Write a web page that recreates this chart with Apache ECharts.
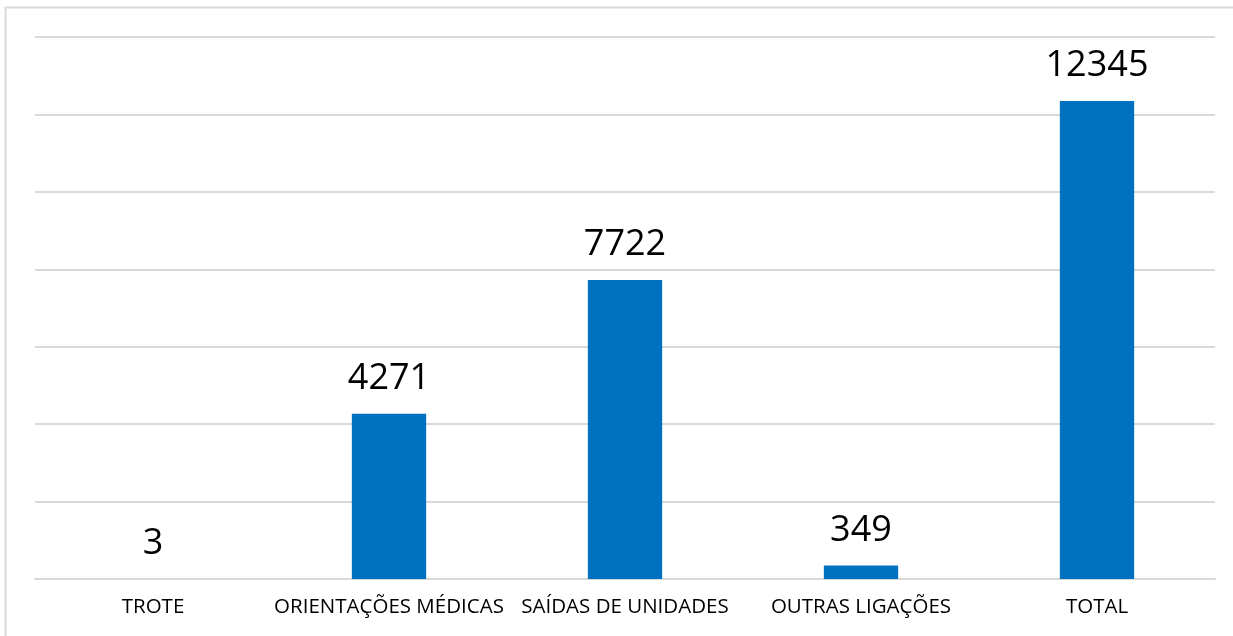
<!DOCTYPE html>
<html>
<head>
<meta charset="utf-8">
<script src="https://cdn.jsdelivr.net/npm/echarts@6/dist/echarts.min.js"></script>
<style>
html,body{margin:0;padding:0;background:#fff;}
#c{width:1233px;height:636px;}
</style>
</head>
<body>
<div id="c"></div>
<script>
const categories = ['TROTE', 'ORIENTAÇÕES MÉDICAS', 'SAÍDAS DE UNIDADES', 'OUTRAS LIGAÇÕES', 'TOTAL'];
const values = [3, 4271, 7722, 349, 12345];

const chart = echarts.init(document.getElementById('c'), null, {renderer: 'canvas'});
chart.setOption({
  animation: false,
  backgroundColor: '#ffffff',
  graphic: [{
    type: 'rect',
    shape: {x: 5.5, y: 7.5, width: 1260, height: 660},
    style: {fill: 'none', stroke: '#D9D9D9', lineWidth: 2},
    silent: true
  }],
  grid: {left: 35, right: 18, top: 37, bottom: 57, containLabel: false},
  xAxis: {
    type: 'category',
    data: categories,
    axisLine: {show: true, lineStyle: {color: '#D9D9D9', width: 2}},
    axisTick: {show: false},
    axisLabel: {
      color: '#000000',
      fontFamily: 'Open Sans',
      fontSize: 20.5,
      margin: 18,
      interval: 0
    }
  },
  yAxis: {
    type: 'value',
    min: 0,
    max: 14000,
    interval: 2000,
    axisLabel: {show: false},
    axisLine: {show: false},
    axisTick: {show: false},
    splitLine: {lineStyle: {color: '#D9D9D9', width: 2}}
  },
  series: [{
    type: 'bar',
    data: values,
    barWidth: '31.5%',
    itemStyle: {color: '#0070C0'},
    label: {
      show: true,
      position: 'top',
      distance: 17,
      color: '#000000',
      fontFamily: 'Open Sans',
      fontSize: 36
    }
  }]
});
</script>
</body>
</html>
